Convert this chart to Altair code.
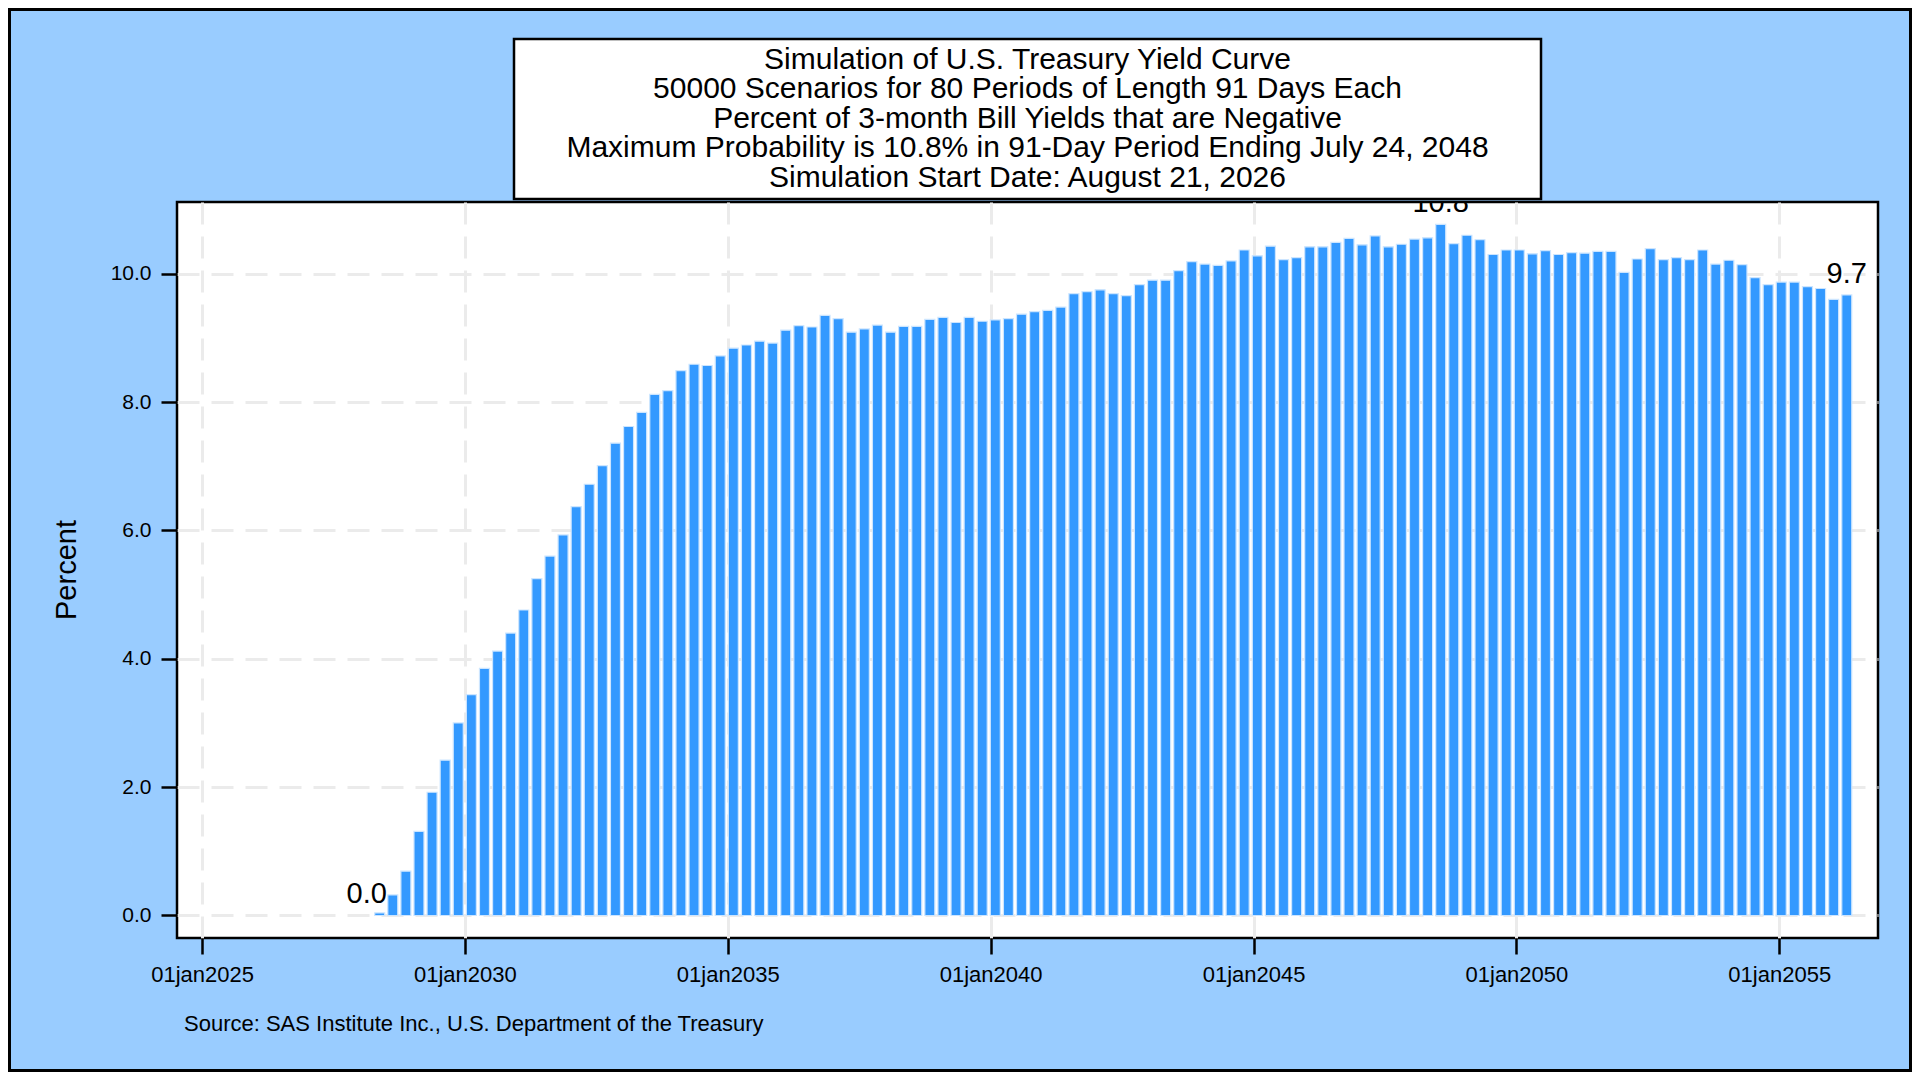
import altair as alt
import pandas as pd

# ---- data ----
first_period_end = "2028-05-19"   # 91-day periods; max period ends July 24, 2048
period_days = 91
pct_negative = [
    0.04, 0.32, 0.69, 1.31, 1.92, 2.42, 3.00, 3.44, 3.85, 4.12,
    4.40, 4.76, 5.25, 5.60, 5.93, 6.37, 6.72, 7.01, 7.36, 7.62,
    7.84, 8.12, 8.18, 8.49, 8.59, 8.57, 8.72, 8.84, 8.89, 8.95,
    8.92, 9.12, 9.19, 9.17, 9.35, 9.30, 9.09, 9.14, 9.20, 9.09,
    9.18, 9.18, 9.29, 9.32, 9.24, 9.32, 9.26, 9.28, 9.30, 9.37,
    9.41, 9.43, 9.48, 9.69, 9.72, 9.75, 9.69, 9.66, 9.83, 9.90,
    9.90, 10.05, 10.19, 10.15, 10.13, 10.20, 10.37, 10.28, 10.43, 10.22,
    10.25, 10.42, 10.42, 10.49, 10.55, 10.45, 10.59, 10.42, 10.46, 10.54,
    10.56, 10.77, 10.47, 10.60, 10.53, 10.30, 10.37, 10.37, 10.31, 10.36,
    10.30, 10.33, 10.32, 10.35, 10.35, 10.02, 10.23, 10.39, 10.22, 10.25,
    10.22, 10.37, 10.15, 10.21, 10.14, 9.94, 9.83, 9.87, 9.87, 9.80,
    9.77, 9.60, 9.67,
]
tick_years = [2025, 2030, 2035, 2040, 2045, 2050, 2055]
y_ticks = [0, 2, 4, 6, 8, 10]
title_lines = [
    "Simulation of U.S. Treasury Yield Curve",
    "50000 Scenarios for 80 Periods of Length 91 Days Each",
    "Percent of 3-month Bill Yields that are Negative",
    "Maximum Probability is 10.8% in 91-Day Period Ending July 24, 2048",
    "Simulation Start Date: August 21, 2026",
]
source_text = "Source: SAS Institute Inc., U.S. Department of the Treasury"
y_title = "Percent"

dates = pd.date_range(first_period_end, periods=len(pct_negative), freq=f"{period_days}D")
df = pd.DataFrame({"date": dates, "pct": pct_negative})
imax = int(df["pct"].idxmax())
df["label"] = ""
df.loc[0, "label"] = f"{df.loc[0, 'pct']:.1f}"
df.loc[imax, "label"] = f"{df.loc[imax, 'pct']:.1f}"
df.loc[len(df) - 1, "label"] = f"{df.loc[len(df) - 1, 'pct']:.1f}"

FONT = "Liberation Sans"
W, H = 1701, 736

x_scale = alt.Scale(domain=[alt.DateTime(year=2024, month=7, date=11),
                            alt.DateTime(year=2056, month=11, date=17)],
                    padding=0)
y_scale = alt.Scale(domain=[-0.351, 11.118], nice=False, zero=False, padding=0)

x_enc = alt.X(
    "date:T", scale=x_scale, title=None,
    axis=alt.Axis(
        values=[alt.DateTime(year=y, month=1, date=1) for y in tick_years],
        labelExpr="'01jan' + timeFormat(datum.value, '%Y')",
        labelFontSize=22, labelColor="black", labelFont=FONT,
        labelPadding=10, tickSize=16, tickWidth=2.5, tickColor="black",
        domain=False, grid=True, gridColor="#ebebeb", gridWidth=3,
        gridDash=[22, 12], labelFlush=False,
    ),
)
y_enc = alt.Y(
    "pct:Q", scale=y_scale, title=None,
    axis=alt.Axis(
        values=y_ticks, format=".1f",
        labelFontSize=21, labelColor="black", labelFont=FONT,
        labelPadding=10, tickSize=16, tickWidth=2.5, tickColor="black",
        domain=False, grid=True, gridColor="#ebebeb", gridWidth=3,
        gridDash=[22, 12], labelFlush=False,
    ),
)

base = alt.Chart(df)

bars = base.mark_bar(size=10, color="#3399FF", stroke="#cce5ff", strokeWidth=1.2).encode(
    x=x_enc, y=y_enc, y2=alt.datum(0)
)

lab_first = alt.Chart(df.iloc[[0]]).mark_text(
    font=FONT, fontSize=29, color="black", baseline="alphabetic", dy=-10, dx=-13, clip=True
).encode(x=alt.X("date:T", scale=x_scale), y=alt.Y("pct:Q", scale=y_scale), text="label:N")

lab_rest = alt.Chart(df.iloc[[imax, len(df) - 1]]).mark_text(
    font=FONT, fontSize=29, color="black", baseline="alphabetic", dy=-12, clip=True
).encode(x=alt.X("date:T", scale=x_scale), y=alt.Y("pct:Q", scale=y_scale), text="label:N")

one = pd.DataFrame({"k": [0]})

title_box = alt.Chart(one).mark_rect(fill="white", stroke="black", strokeWidth=2.5).encode(
    x=alt.value(337), x2=alt.value(1364), y=alt.value(-163), y2=alt.value(-3)
)

title_layers = []
for i, line in enumerate(title_lines):
    title_layers.append(
        alt.Chart(one).mark_text(
            font=FONT, fontSize=30, color="black", align="center", baseline="alphabetic"
        ).encode(x=alt.value(W / 2), y=alt.value(-133.5 + 29.6 * i), text=alt.value(line))
    )

ytitle = alt.Chart(one).mark_text(
    font=FONT, fontSize=29, color="black", align="center", baseline="alphabetic", angle=270
).encode(x=alt.value(-101), y=alt.value(H / 2), text=alt.value(y_title))

source = alt.Chart(one).mark_text(
    font=FONT, fontSize=22, color="black", align="left", baseline="alphabetic"
).encode(x=alt.value(7), y=alt.value(829), text=alt.value(source_text))

outer = alt.Chart(one).mark_rect(fill=None, stroke="black", strokeWidth=3).encode(
    x=alt.value(-167.5), x2=alt.value(W + 32.5), y=alt.value(-192.5), y2=alt.value(H + 132.5)
)

chart = alt.layer(
    bars, lab_first, lab_rest, title_box, *title_layers, ytitle, source, outer
).properties(
    width=W, height=H,
    background="#99CCFF",
    padding={"left": 169, "top": 194, "right": 34, "bottom": 134},
    autosize=alt.AutoSizeParams(type="none"),
).configure(
    font=FONT
).configure_view(
    stroke="black", strokeWidth=2.5, fill="white"
)

chart.save("out.html", embed_options={"renderer": "svg", "actions": False})
